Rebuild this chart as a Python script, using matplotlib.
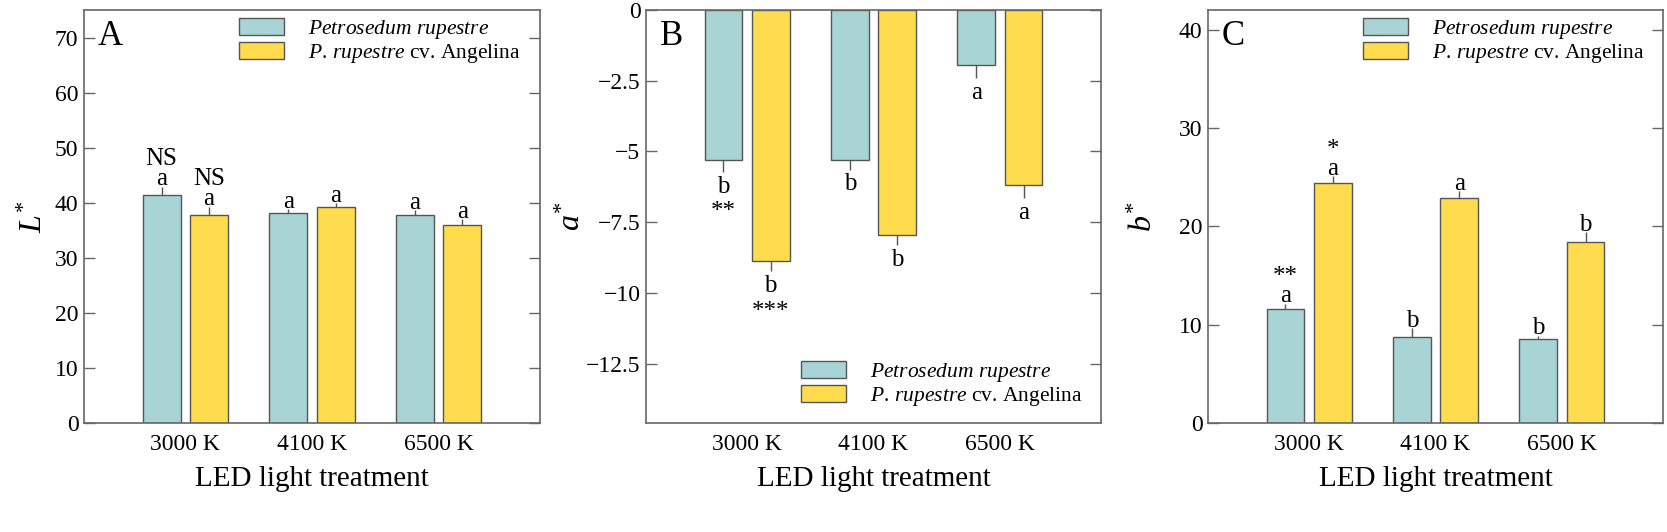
import matplotlib
matplotlib.use('Agg')
import matplotlib.pyplot as plt
import numpy as np
from matplotlib.ticker import FuncFormatter

plt.rcParams['font.family'] = ['Liberation Serif', 'DejaVu Serif']
plt.rcParams['mathtext.fontset'] = 'custom'
plt.rcParams['mathtext.rm'] = 'Liberation Serif'
plt.rcParams['mathtext.it'] = 'Liberation Serif:italic'

# ---- data ----
treatments = ['3000 K', '4100 K', '6500 K']
series = ['Petrosedum rupestre', 'P. rupestre cv. Angelina']

L_wild = [41.4, 38.1, 37.7]
L_wild_err = [1.5, 0.7, 0.9]
L_ang = [37.7, 39.3, 35.9]
L_ang_err = [1.6, 0.6, 1.1]
L_wild_let = ['a', 'a', 'a']
L_ang_let = ['a', 'a', 'a']
L_wild_sig = ['NS', '', '']
L_ang_sig = ['NS', '', '']

a_wild = [-5.30, -5.30, -1.94]
a_wild_err = [0.43, 0.34, 0.48]
a_ang = [-8.86, -7.95, -6.17]
a_ang_err = [0.38, 0.36, 0.48]
a_wild_let = ['b', 'b', 'a']
a_ang_let = ['b', 'b', 'a']
a_wild_sig = ['**', '', '']
a_ang_sig = ['***', '', '']

b_wild = [11.55, 8.73, 8.56]
b_wild_err = [0.6, 0.9, 0.3]
b_ang = [24.4, 22.85, 18.38]
b_ang_err = [0.7, 0.7, 1.0]
b_wild_let = ['a', 'b', 'b']
b_ang_let = ['a', 'a', 'b']
b_wild_sig = ['**', '', '']
b_ang_sig = ['*', '', '']

c_wild = '#A9D4D6'
c_ang = '#FEDC4E'
edge = '#555555'

fig = plt.figure(figsize=(16.67, 5.32), dpi=100)
W, H = 1667, 532
def box(l, r, t=10, b=423):
    return [l / W, (H - b) / H, (r - l) / W, (b - t) / H]

axA = fig.add_axes(box(84, 540))
axB = fig.add_axes(box(646, 1101))
axC = fig.add_axes(box(1208, 1663))

x = np.arange(len(treatments))
bw = 0.30
off = 0.187
fs_ann = 18

def panel(ax, wild, werr, ang, aerr, wlet, alet, wsig, asig, neg=False):
    for vals, err, col, sh, lets, sigs, lab in [
            (wild, werr, c_wild, -off, wlet, wsig, series[0]),
            (ang, aerr, c_ang, off, alet, asig, series[1])]:
        xs = x + sh
        ax.bar(xs, vals, bw, color=col, edgecolor=edge, linewidth=1.0, label=lab, zorder=2)
        zeros = np.zeros(len(vals))
        yerr = [err, zeros] if neg else [zeros, err]
        ax.errorbar(xs, vals, yerr=yerr, fmt='none', ecolor=edge, elinewidth=1.0,
                    capsize=0, zorder=1)
        for xi, v, e, lt, sg in zip(xs, vals, err, lets, sigs):
            if neg:
                end = v - e
                ax.annotate(lt, (xi, end), xytext=(0, -2.5), textcoords='offset points',
                            ha='center', va='top', fontsize=fs_ann)
                if sg:
                    ax.annotate(sg, (xi, end), xytext=(0, -21), textcoords='offset points',
                                ha='center', va='top', fontsize=fs_ann)
            else:
                end = v + e
                ax.annotate(lt, (xi, end), xytext=(0, 1), textcoords='offset points',
                            ha='center', va='baseline', fontsize=fs_ann)
                if sg:
                    dy = 15.5 if sg == 'NS' else 14.5
                    ax.annotate(sg, (xi, end), xytext=(0, dy), textcoords='offset points',
                                ha='center', va='baseline', fontsize=fs_ann)
    ax.set_xlim(-0.8, 2.8)
    ax.set_xticks(x)
    ax.set_xticklabels(treatments)
    ax.set_xlabel('LED light treatment', fontsize=21, labelpad=8)
    ax.tick_params(axis='x', length=0, labelsize=17, pad=8)
    ax.tick_params(axis='y', direction='in', right=True, length=8, width=1,
                   color='#666666', labelsize=17, pad=4)
    for s in ax.spines.values():
        s.set_color('#666666')
        s.set_linewidth(1.2)
    ax.yaxis.set_major_formatter(FuncFormatter(lambda v, p: f'{v:g}'.replace('-', '\u2212')))

panel(axA, L_wild, L_wild_err, L_ang, L_ang_err, L_wild_let, L_ang_let, L_wild_sig, L_ang_sig)
axA.set_ylim(0, 75)
axA.set_yticks(np.arange(0, 71, 10))
axA.set_ylabel(r'$L^{*}$', fontsize=23)
axA.yaxis.set_label_coords(-0.076, 0.5)

panel(axB, a_wild, a_wild_err, a_ang, a_ang_err, a_wild_let, a_ang_let, a_wild_sig, a_ang_sig, neg=True)
axB.set_ylim(-14.6, 0)
axB.set_yticks(np.arange(0, -12.6, -2.5))
axB.set_ylabel(r'$a^{*}$', fontsize=23)
axB.yaxis.set_label_coords(-0.13, 0.5)

panel(axC, b_wild, b_wild_err, b_ang, b_ang_err, b_wild_let, b_ang_let, b_wild_sig, b_ang_sig)
axC.set_ylim(0, 42)
axC.set_yticks(np.arange(0, 41, 10))
axC.set_ylabel(r'$b^{*}$', fontsize=23)
axC.yaxis.set_label_coords(-0.108, 0.5)

leg_labels = [r'$\mathit{Petrosedum}$ $\mathit{rupestre}$', r'$\mathit{P.\,rupestre}$ cv. Angelina']
leg_kw = dict(frameon=False, fontsize=15.5, handlelength=2.1, handleheight=0.82,
              handletextpad=1.12, labelspacing=0.05, borderpad=0, borderaxespad=0)
for ax, letter in [(axA, 'A'), (axB, 'B'), (axC, 'C')]:
    ax.text(0.03, 0.935, letter, transform=ax.transAxes, fontsize=25, ha='left', va='center')
    h, _ = ax.get_legend_handles_labels()
    if ax is axB:
        ax.legend(h, leg_labels, loc='lower left', bbox_to_anchor=(0.34, 0.036), **leg_kw)
    else:
        ax.legend(h, leg_labels, loc='upper left', bbox_to_anchor=(0.34, 0.98), **leg_kw)

fig.savefig('out.png', dpi=100)
